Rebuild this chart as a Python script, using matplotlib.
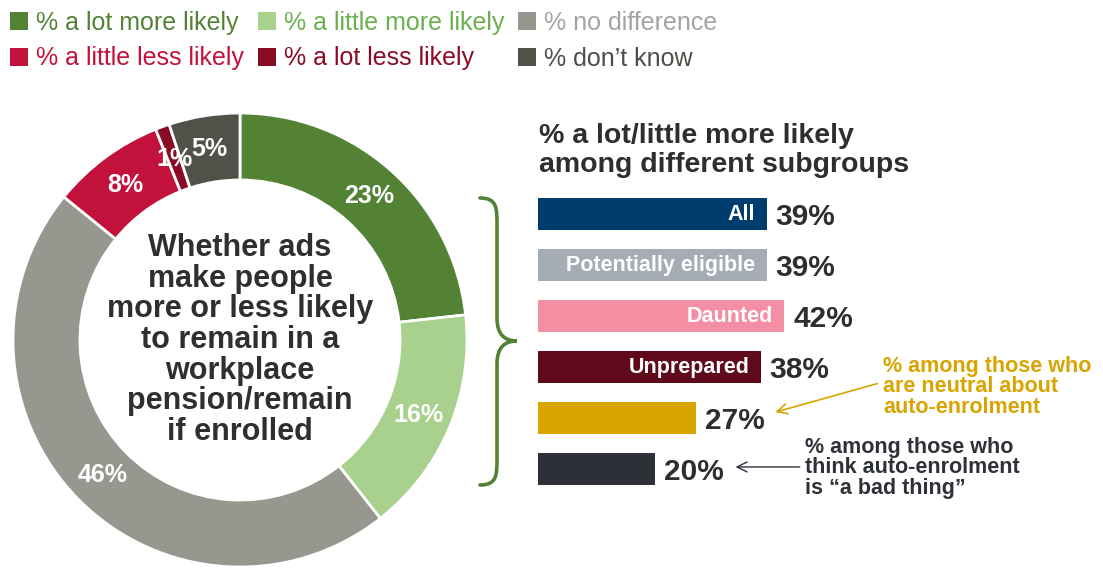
import matplotlib.pyplot as plt
from matplotlib.patches import Patch, PathPatch
from matplotlib.path import Path

plt.rcParams['font.family'] = ['Liberation Sans', 'DejaVu Sans']

# answers to "do ads make you more or less likely to stay enrolled"
answers = ['% a lot more likely', '% a little more likely', '% no difference',
           '% a little less likely', '% a lot less likely', '% don’t know']
shares = [23, 16, 46, 8, 1, 5]
slice_colors = ['#548235', '#A9D18E', '#979790', '#C2113A', '#8A0B26', '#51514A']
legend_text_colors = ['#548235', '#6BAF4F', '#A3A3A0', '#C2113A', '#8A0B26', '#4E4E48']

# share "a lot/little more likely" by subgroup
groups = ['All', 'Potentially eligible', 'Daunted', 'Unprepared', '', '']
more_likely = [39, 39, 42, 38, 27, 20]
bar_colors = ['#003D6F', '#A6ACB4', '#F48FA3', '#5E0A1B', '#D9A600', '#2D3036']

W, H = 1103, 568
fig = plt.figure(figsize=(W / 100, H / 100), dpi=100)


def px(x, y):
    # pixel position (from top-left) -> figure fraction
    return x / W, 1 - y / H


# ---- donut ----
ax = fig.add_axes([13 / W, 1 / H, 454 / W, 454 / H])
total = sum(shares)
ax.pie(shares, colors=slice_colors, startangle=90, counterclock=False,
       wedgeprops=dict(width=0.295, edgecolor='white', linewidth=2),
       autopct=lambda p: f'{p * total / 100:.0f}%', pctdistance=0.85,
       textprops=dict(color='white', fontsize=18, fontweight='bold'))
ax.set_xlim(-1, 1)
ax.set_ylim(-1, 1)
ax.text(0, 0.0, 'Whether ads\nmake people\nmore or less likely\nto remain in a\n'
        'workplace\npension/remain\nif enrolled',
        ha='center', va='center', fontsize=22, fontweight='bold',
        color='#2F2F2F', linespacing=1.03)

# ---- legend ----
order = [0, 3, 1, 4, 2, 5]
handles = [Patch(facecolor=slice_colors[i], edgecolor='none') for i in order]
leg = fig.legend(handles, [answers[i] for i in order], ncol=3,
                 loc='upper left', bbox_to_anchor=px(10, 11), frameon=False,
                 fontsize=18, handlelength=0.72, handleheight=0.72,
                 handletextpad=0.32, columnspacing=0.56, labelspacing=0.46,
                 borderpad=0, borderaxespad=0)
for t, i in zip(leg.get_texts(), order):
    t.set_color(legend_text_colors[i])

# ---- subgroup bars ----
bx = fig.add_axes([538 / W, (H - 494.5) / H, 352 / W, 306 / H])
pos = range(len(more_likely))
bx.barh(pos, more_likely, height=0.627, color=bar_colors)
bx.set_xlim(0, 60)
bx.set_ylim(5.5, -0.5)
bx.axis('off')
for i, (g, v) in enumerate(zip(groups, more_likely)):
    if g:
        bx.text(v - 2.0, i, g, ha='right', va='center', color='white',
                fontsize=15.5, fontweight='bold')
    bx.text(v + 1.5, i + 0.05, f'{v}%', ha='left', va='center',
            fontsize=21.5, fontweight='bold', color='#2E2E2E')

bx.text(58.8, 2.78, '% among those who\nare neutral about\nauto-enrolment',
        ha='left', va='top', fontsize=15.5, fontweight='bold',
        color='#D9A400', linespacing=0.97, clip_on=False)
bx.annotate('', xy=(40.0, 3.90), xytext=(58.3, 3.31),
            arrowprops=dict(arrowstyle='->', color='#D9A400', lw=1.2,
                            mutation_scale=18))
bx.text(45.5, 4.37, '% among those who\nthink auto-enrolment\nis “a bad thing”',
        ha='left', va='top', fontsize=15.5, fontweight='bold',
        color='#2E3238', linespacing=0.97, clip_on=False)
bx.annotate('', xy=(33.2, 4.96), xytext=(45.1, 4.96),
            arrowprops=dict(arrowstyle='->', color='#2E3238', lw=1.0,
                            mutation_scale=18))

fig.text(*px(539, 123), '% a lot/little more likely\namong different subgroups',
         ha='left', va='top', fontsize=20.5, fontweight='bold',
         color='#2E2E2E', linespacing=1.16)

# ---- curly brace linking the donut to the bars ----
pts = [(480, 198), (497, 198), (497, 208), (497, 225),
       (497, 318),
       (497, 335), (505, 341), (517, 341),
       (505, 341), (497, 347), (497, 364),
       (497, 458),
       (497, 475), (497, 485), (480, 485)]
codes = [Path.MOVETO, Path.CURVE4, Path.CURVE4, Path.CURVE4,
         Path.LINETO,
         Path.CURVE4, Path.CURVE4, Path.CURVE4,
         Path.CURVE4, Path.CURVE4, Path.CURVE4,
         Path.LINETO,
         Path.CURVE4, Path.CURVE4, Path.CURVE4]
brace = Path([px(x, y) for x, y in pts], codes)
fig.add_artist(PathPatch(brace, transform=fig.transFigure, facecolor='none',
                         edgecolor='#548235', lw=2.6, capstyle='round'))

fig.savefig('out.png', dpi=100)
